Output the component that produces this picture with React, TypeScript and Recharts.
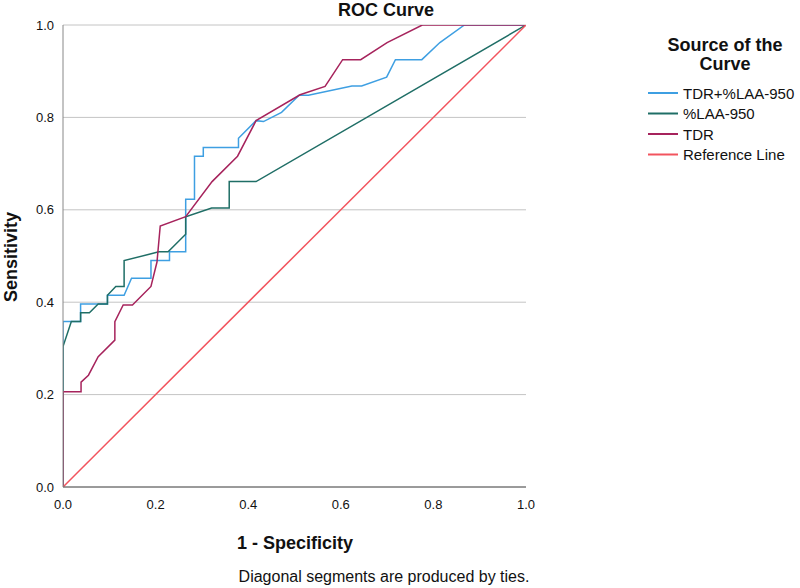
import React from 'react';
import { LineChart, Line, XAxis, YAxis, CartesianGrid, Customized } from 'recharts';

// TDR+%LAA-950
const comboX = [0,0,0.038,0.038,0.096,0.096,0.132,0.148,0.19,0.19,0.23,0.23,0.265,0.265,0.284,0.284,0.303,0.303,0.379,0.379,0.417,0.433,0.472,0.51,0.53,0.624,0.645,0.699,0.718,0.775,0.814,0.867,1];
const comboY = [0,0.358,0.358,0.396,0.396,0.415,0.415,0.452,0.452,0.49,0.49,0.509,0.509,0.623,0.623,0.716,0.716,0.735,0.735,0.755,0.793,0.791,0.811,0.848,0.848,0.868,0.868,0.887,0.925,0.925,0.962,1,1];
// %LAA-950
const laaX = [0,0,0.018,0.038,0.038,0.057,0.076,0.096,0.096,0.114,0.132,0.132,0.207,0.227,0.265,0.265,0.321,0.359,0.359,0.417,1];
const laaY = [0,0.304,0.358,0.358,0.377,0.377,0.396,0.396,0.415,0.434,0.434,0.49,0.509,0.509,0.547,0.585,0.604,0.604,0.661,0.661,1];
// TDR
const tdrX = [0,0,0.039,0.039,0.055,0.076,0.112,0.112,0.13,0.15,0.19,0.203,0.21,0.265,0.322,0.377,0.417,0.512,0.566,0.604,0.643,0.7,0.776,1];
const tdrY = [0,0.206,0.206,0.227,0.242,0.282,0.318,0.358,0.394,0.394,0.434,0.487,0.565,0.585,0.661,0.716,0.793,0.849,0.867,0.925,0.925,0.962,1,1];
// Reference line
const refX = [0,1];
const refY = [0,1];

const ticks = [0,0.2,0.4,0.6,0.8,1];
const seriesNames = ['TDR+%LAA-950','%LAA-950','TDR','Reference Line'];
const seriesColors = ['#3E9FE2','#1F6E66','#A6235C','#F2545E'];

const zip = (xs: number[], ys: number[]) => xs.map((x, i) => ({ x, y: ys[i] }));
const seriesData = [zip(comboX, comboY), zip(laaX, laaY), zip(tdrX, tdrY), zip(refX, refY)];

const FONT = "Arial, 'Liberation Sans', sans-serif";

const Overlay = () => (
  <g fontFamily={FONT} fill="#111">
    <text x={386} y={16} textAnchor="middle" fontSize={18} fontWeight="bold">ROC Curve</text>
    <text x={295} y={549} textAnchor="middle" fontSize={18} fontWeight="bold">1 - Specificity</text>
    <text x={0} y={0} transform="translate(17,257) rotate(-90)" textAnchor="middle" fontSize={18} fontWeight="bold">Sensitivity</text>
    <text x={384} y={582} textAnchor="middle" fontSize={16}>Diagonal segments are produced by ties.</text>
    <text x={725} y={51} textAnchor="middle" fontSize={18} fontWeight="bold">Source of the</text>
    <text x={725} y={70} textAnchor="middle" fontSize={18} fontWeight="bold">Curve</text>
    {seriesNames.map((n, i) => (
      <g key={n}>
        <line x1={648} x2={678} y1={93 + i * 20.5} y2={93 + i * 20.5} stroke={seriesColors[i]} strokeWidth={2} />
        <text x={683} y={98.5 + i * 20.5} fontSize={15}>{n}</text>
      </g>
    ))}
  </g>
);

export default function App() {
  return (
    <div style={{ position: 'absolute', left: 0, top: 0, background: '#fff' }}>
      <LineChart width={800} height={588} margin={{ top: 25, right: 274, left: 13, bottom: 61 }}>
        <CartesianGrid horizontal vertical={false} stroke="#C4C4C4" />
        <XAxis dataKey="x" type="number" domain={[0, 1]} ticks={ticks} tickFormatter={(v: number) => v.toFixed(1)}
          height={40} tickLine={false} tickSize={0} tickMargin={13} stroke="#555"
          tick={{ fill: '#111', fontSize: 13, fontFamily: FONT }} allowDataOverflow />
        <YAxis dataKey="y" type="number" domain={[0, 1]} ticks={ticks} tickFormatter={(v: number) => v.toFixed(1)}
          width={50} tickLine={false} tickSize={0} tickMargin={9} stroke="#888"
          tick={{ fill: '#111', fontSize: 13, fontFamily: FONT }} allowDataOverflow />
        {seriesData.map((d, i) => (
          <Line key={seriesNames[i]} data={d} dataKey="y" name={seriesNames[i]} type="linear"
            stroke={seriesColors[i]} strokeWidth={1.5} dot={false} activeDot={false} isAnimationActive={false} />
        ))}
        <Customized component={<Overlay />} />
      </LineChart>
    </div>
  );
}
